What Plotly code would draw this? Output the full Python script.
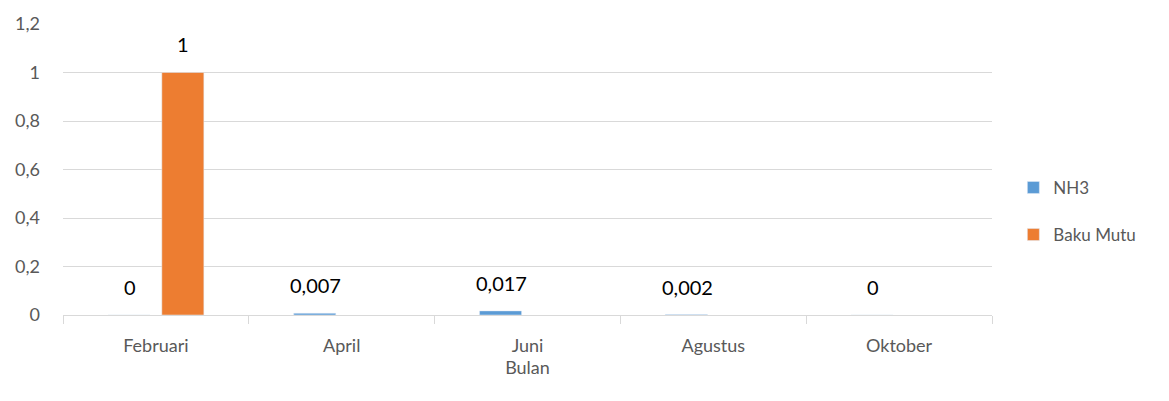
import plotly.graph_objects as go

bulan = ["Februari", "April", "Juni", "Agustus", "Oktober"]
nh3 = [0, 0.007, 0.017, 0.002, 0]
baku_mutu = [1, None, None, None, None]
y_ticks = [0, 0.2, 0.4, 0.6, 0.8, 1.0, 1.2]

def fmt(v):
    return f"{v:g}".replace(".", ",")

FONT = "Lato, 'Open Sans', sans-serif"
GRAY = "#595959"

fig = go.Figure()
fig.add_trace(go.Bar(
    name="NH3", x=bulan, y=nh3, marker_color="#5b9bd5", legendgroup="a",
))
fig.add_trace(go.Bar(
    name="Baku Mutu", x=bulan, y=baku_mutu, marker_color="#ed7d31", legendgroup="b",
))

# data labels (Excel style, placed a little above bar ends)
for cat, v in zip(bulan, nh3):
    if v is not None:
        fig.add_annotation(x=cat, y=v, text=fmt(v), showarrow=False,
                           xshift=-26, yshift=28,
                           font=dict(size=20, color="#000000", family=FONT))
for cat, v in zip(bulan, baku_mutu):
    if v is not None:
        fig.add_annotation(x=cat, y=v, text=fmt(v), showarrow=False,
                           xshift=27, yshift=29,
                           font=dict(size=20, color="#000000", family=FONT))

fig.update_layout(
    width=1169, height=401,
    margin=dict(l=63, r=177, t=19, b=86),
    paper_bgcolor="white", plot_bgcolor="white",
    font=dict(family=FONT, color=GRAY, size=17),
    separators=", ",
    barmode="group", bargap=0.42, bargroupgap=0.22,
    legend=dict(x=1.023, y=0.356, yanchor="middle", xanchor="left",
                font=dict(size=17, color=GRAY), tracegroupgap=22,
                traceorder="grouped", itemwidth=30),
    showlegend=True,
)
fig.update_xaxes(
    title=dict(text="Bulan", font=dict(size=18, color=GRAY), standoff=6),
    showline=True, linecolor="#d9d9d9", linewidth=1,
    ticks="outside", tickson="boundaries", ticklen=8, tickcolor="#d9d9d9",
    tickfont=dict(size=18, color=GRAY), ticklabelstandoff=14,
)
fig.update_yaxes(
    range=[0, 1.2], tickvals=y_ticks,
    showgrid=True, gridcolor="#d9d9d9", gridwidth=1,
    zeroline=False, showline=False,
    tickfont=dict(size=18, color=GRAY), ticklabelstandoff=22,
)
fig.write_html("out.html", config={"displayModeBar": False},
               post_script="document.body.style.margin='0';")
